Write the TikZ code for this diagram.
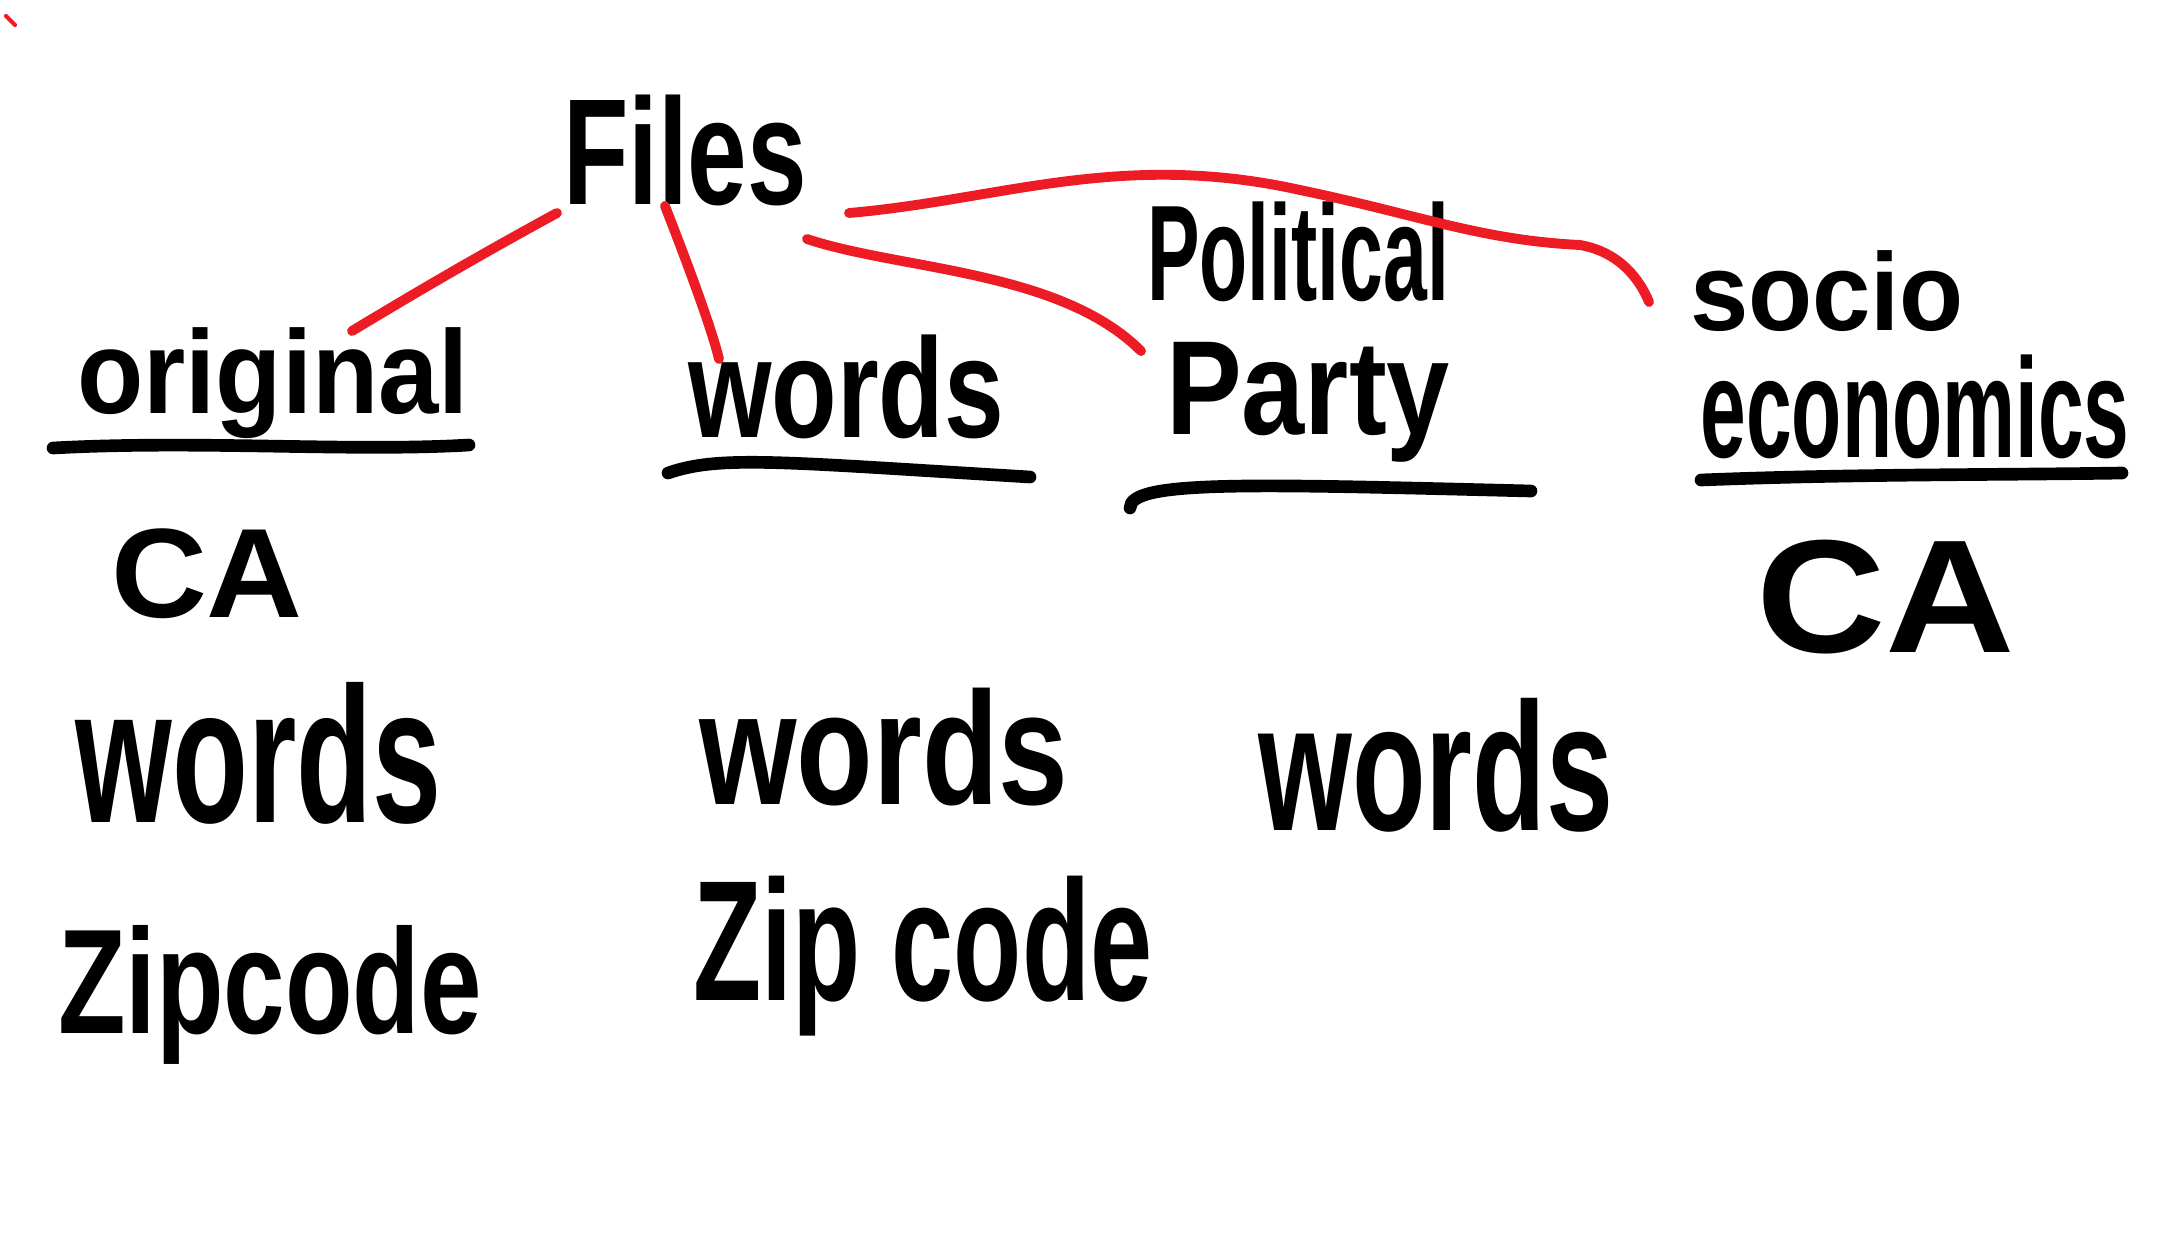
\documentclass[tikz,border=0pt]{standalone}
\usepackage{fontspec}
\setmainfont{Liberation Sans}
\usepackage{graphicx}
\newlength\pxu
\setlength\pxu{0.01cm}
\newcommand\hw[3]{\resizebox*{#1\pxu}{#2\pxu}{\fontsize{40}{40}\selectfont\bfseries #3}}
\begin{document}
\begin{tikzpicture}[x=0.01cm,y=-0.01cm,
  txt/.style={inner sep=0pt,outer sep=0pt,text=black},
  link/.style={draw={rgb,255:red,237;green,28;blue,36},line width=2.8pt,line cap=round},
  uline/.style={draw=black,line width=3.6pt,line cap=round}]
\useasboundingbox[fill=white] (0,0) rectangle (2182,1242);
% header texts
\node[txt] (files) at (685,150) {\hw{244}{111}{Files}};
\node[txt] (orig) at (273,383) {\hw{392}{111}{original}};
\node[txt] (wordsh) at (846,387) {\hw{316}{104}{words}};
\node[txt] (polit) at (1298,252) {\hw{302}{100}{Political}};
\node[txt] (party) at (1308,402) {\hw{284}{120}{Party}};
\node[txt] (socio) at (1827,291) {\hw{274}{81}{socio}};
\node[txt] (econ) at (1915,407) {\hw{429}{104}{economics}};
% column items
\node[txt] (ca1) at (207,574) {\hw{192}{90}{CA}};
\node[txt] (w1) at (259,753) {\hw{366}{142}{words}};
\node[txt] (z1) at (270,995) {\hw{424}{139}{Zipcode}};
\node[txt] (w2) at (884,747) {\hw{369}{118}{words}};
\node[txt] (z2) at (923,956) {\hw{459}{160}{Zip code}};
\node[txt] (w3) at (1436,765) {\hw{355}{134}{words}};
\node[txt] (ca2) at (1886,597) {\hw{259}{114}{CA}};
% underlines
\coordinate (u1a) at (53,448); \coordinate (u1b) at (469,445);
\coordinate (u2a) at (668,473); \coordinate (u2b) at (1030,477);
\coordinate (u3a) at (1130,508); \coordinate (u3b) at (1531,491);
\coordinate (u4a) at (1701,480); \coordinate (u4b) at (2122,473);
\draw[uline] (u1a) .. controls (200,440) and (350,452) .. (u1b);
\draw[uline] (u2a) .. controls (720,455) and (780,462) .. (u2b);
\draw[uline] (u3a) .. controls (1130,480) and (1250,484) .. (u3b);
\draw[uline] (u4a) .. controls (1850,474) and (2000,475) .. (u4b);
% red connectors
\coordinate (r1a) at (557,213); \coordinate (r1b) at (352,331);
\coordinate (r2a) at (665,206); \coordinate (r2b) at (719,359);
\coordinate (r3a) at (807,239); \coordinate (r3b) at (1141,351);
\coordinate (r4a) at (849,213); \coordinate (r4b) at (1649,302);
\draw[link] (r1a) .. controls (480,255) and (420,290) .. (r1b);
\draw[link] (r2a) .. controls (690,270) and (712,330) .. (r2b);
\draw[link] (r3a) .. controls (900,270) and (1060,270) .. (r3b);
\draw[link] (r4a) .. controls (1000,200) and (1120,150) .. (1300,190)
  .. controls (1420,215) and (1480,240) .. (1580,245)
  .. controls (1620,252) and (1640,280) .. (r4b);
\coordinate (tk1) at (6,16); \coordinate (tk2) at (15,25);
\draw[link,line width=1.2pt] (tk1) -- (tk2);
\end{tikzpicture}
\end{document}
